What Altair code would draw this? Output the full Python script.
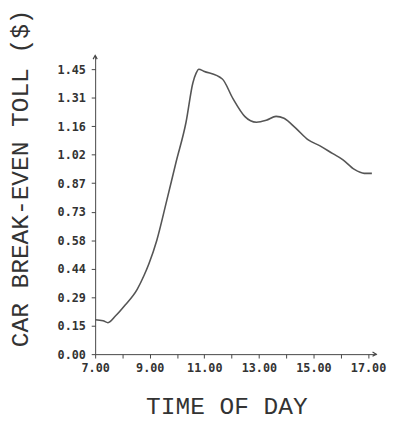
import altair as alt
import pandas as pd

# Data
hours = [7.0, 7.29, 7.47, 7.75, 8.1, 8.54, 8.79, 8.97, 9.26, 9.62, 9.97, 10.33, 10.58, 10.7, 10.8,
         10.98, 11.66, 12.05, 12.48, 12.91, 13.27, 13.63, 13.92, 14.35, 14.81, 15.24, 15.71,
         16.07, 16.5, 16.86, 17.14]
toll = [0.175, 0.17, 0.16, 0.195, 0.25, 0.33, 0.40, 0.46, 0.58, 0.78, 0.98, 1.18, 1.38, 1.43, 1.45,
        1.44, 1.40, 1.30, 1.21, 1.18, 1.19, 1.21, 1.20, 1.15, 1.09, 1.06, 1.02,
        0.99, 0.94, 0.92, 0.92]
x_ticks = [7, 8, 9, 10, 11, 12, 13, 14, 15, 16, 17]
y_tick_labels = ["0.00", "0.15", "0.29", "0.44", "0.58", "0.73", "0.87", "1.02", "1.16", "1.31", "1.45"]
y_step = 0.145
y_ticks = [round(i * y_step, 4) for i in range(len(y_tick_labels))]

X_MAX = 17.3
Y_MAX = 1.52

df = pd.DataFrame({"hour": hours, "toll": toll})

label_arr = "[" + ",".join("'" + s + "'" for s in y_tick_labels) + "]"

axis_color = "#444444"
tick_font = "DejaVu Sans Mono"
title_font = "Liberation Mono"

xscale = alt.Scale(domain=[7, X_MAX], nice=False, zero=False)
yscale = alt.Scale(domain=[0, Y_MAX], nice=False)

line = alt.Chart(df).mark_line(color="#555555", strokeWidth=1.6, interpolate="monotone").encode(
    x=alt.X("hour:Q", scale=xscale,
            axis=alt.Axis(values=x_ticks, tickCount=30, title="TIME OF DAY",
                          labelExpr="datum.value % 2 == 1 ? format(datum.value, '.2f') : ''",
                          labelFlush=False, labelOverlap=False,
                          grid=False, domainColor=axis_color, tickColor=axis_color,
                          tickSize=4, labelPadding=5, labelFont=tick_font, labelFontWeight="bold",
                          labelFontSize=12, labelColor="#333333",
                          titleFont=title_font, titleFontSize=25, titleFontWeight="normal",
                          titleColor="#333333", titleX=134, titleY=53, titleBaseline="middle",
                          titleAlign="center")),
    y=alt.Y("toll:Q", scale=yscale,
            axis=alt.Axis(values=y_ticks, tickCount=30, title="CAR BREAK-EVEN TOLL ($)",
                          labelExpr=label_arr + "[round(datum.value / " + str(y_step) + ")]",
                          labelOverlap=False, labelFlush=False,
                          grid=False, domainColor=axis_color, tickColor=axis_color,
                          tickSize=4, labelPadding=6, labelFont=tick_font, labelFontWeight="bold",
                          labelFontSize=12, labelColor="#333333",
                          titleFont=title_font, titleFontSize=25, titleFontWeight="normal",
                          titleColor="#333333", titleX=-77, titleY=125, titleBaseline="middle",
                          titleAlign="center", titleAngle=270)),
)

arrow_up = alt.Chart(pd.DataFrame({"hour": [7.0], "toll": [Y_MAX]})).mark_point(
    shape="M-0.5,0.9L0,0L0.5,0.9", filled=False, color=axis_color, size=70, strokeWidth=1.2, opacity=1
).encode(x=alt.X("hour:Q", scale=xscale), y=alt.Y("toll:Q", scale=yscale))

arrow_right = alt.Chart(pd.DataFrame({"hour": [X_MAX], "toll": [0.0]})).mark_point(
    shape="M-0.9,-0.5L0,0L-0.9,0.5", filled=False, color=axis_color, size=70, strokeWidth=1.2, opacity=1
).encode(x=alt.X("hour:Q", scale=xscale), y=alt.Y("toll:Q", scale=yscale))

chart = alt.layer(line, arrow_up, arrow_right).properties(
    width=287, height=305,
    autosize=alt.AutoSizeParams(type="none"),
    padding={"left": 89, "top": 44, "right": 11, "bottom": 72},
).configure(background="white").configure_view(stroke=None).configure_axis(labelOverlap=False)

chart.save("out.html", embed_options={"renderer": "svg", "actions": False})
